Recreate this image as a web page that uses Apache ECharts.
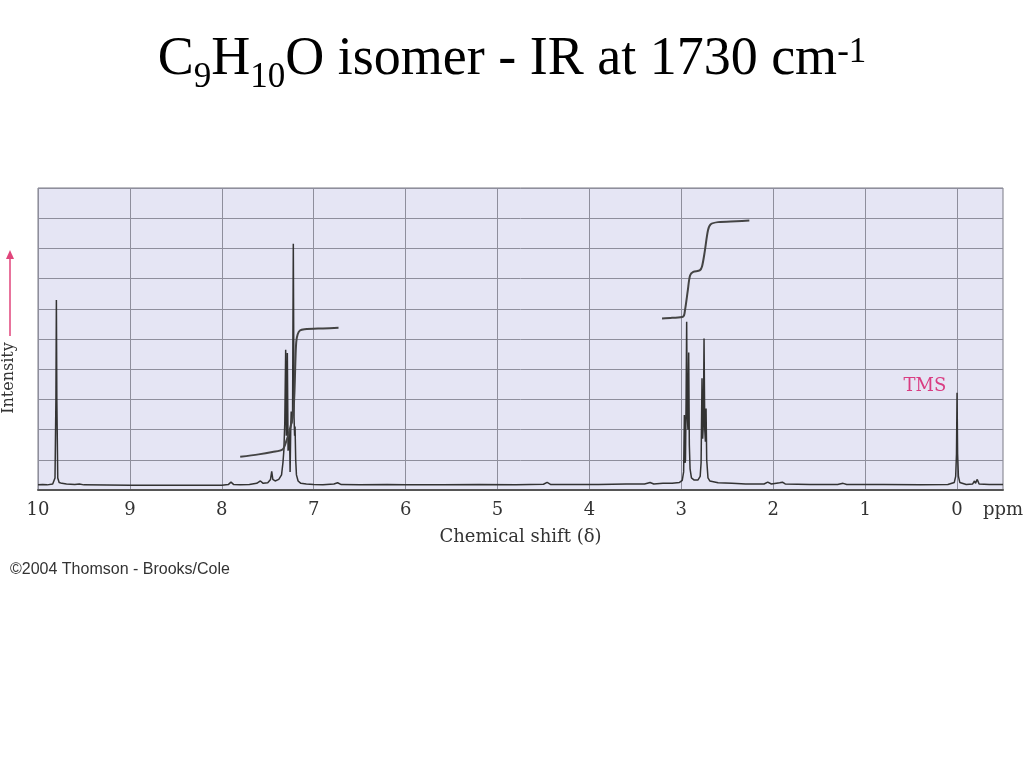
<!DOCTYPE html>
<html>
<head>
<meta charset="utf-8">
<script src="https://cdn.jsdelivr.net/npm/echarts@6/dist/echarts.min.js"></script>
<style>
  html, body { margin: 0; padding: 0; background: #ffffff; }
  #chart { width: 1024px; height: 768px; }
</style>
</head>
<body>
<div id="chart"></div>
<script>
// ---- data ----
const xTickValues = [10, 9, 8, 7, 6, 5, 4, 3, 2, 1, 0];

// NMR trace: [chemical shift ppm, intensity (grid units)]
const spectrum = [
  [10.0,0.17],[9.95,0.18],[9.9,0.17],[9.84,0.2],[9.815,0.4],[9.805,3.0],[9.80,6.29],[9.795,3.0],[9.785,0.4],
  [9.77,0.25],[9.74,0.22],[9.72,0.26],[9.69,0.2],[9.6,0.18],[9.55,0.2],[9.5,0.17],
  [9.0,0.16],[8.5,0.16],[8.0,0.16],[7.93,0.18],[7.9,0.26],[7.87,0.18],[7.8,0.17],[7.7,0.18],
  [7.62,0.22],[7.58,0.3],[7.55,0.22],[7.5,0.24],[7.47,0.35],[7.457,0.62],[7.445,0.35],[7.42,0.3],
  [7.38,0.35],[7.35,0.5],[7.335,0.9],[7.325,1.3],[7.315,2.2],[7.305,4.64],[7.298,1.8],[7.292,2.0],
  [7.287,4.54],[7.279,1.3],[7.27,1.5],[7.263,1.9],[7.257,0.6],[7.25,2.0],[7.245,2.6],[7.238,2.2],
  [7.23,2.6],[7.222,8.15],[7.214,2.4],[7.208,1.8],[7.203,2.1],[7.196,1.0],[7.188,0.5],[7.17,0.3],
  [7.14,0.22],[7.08,0.2],[7.0,0.18],
  [6.9,0.17],[6.78,0.2],[6.74,0.24],[6.7,0.18],[6.5,0.17],[6.2,0.18],[6.0,0.17],[5.6,0.17],
  [5.2,0.18],[4.8,0.17],[4.5,0.19],[4.46,0.25],[4.42,0.18],[4.2,0.18],[3.9,0.18],[3.6,0.2],
  [3.4,0.2],[3.34,0.25],[3.3,0.2],[3.2,0.22],[3.1,0.22],[3.02,0.25],[2.99,0.32],[2.975,0.6],
  [2.967,2.48],[2.96,0.9],[2.955,1.0],[2.948,3.0],[2.942,5.57],[2.936,2.5],[2.928,2.0],[2.920,4.55],
  [2.913,1.5],[2.905,0.7],[2.89,0.4],[2.86,0.33],[2.82,0.33],[2.795,0.45],[2.785,0.9],[2.775,3.7],
  [2.768,1.7],[2.76,2.2],[2.753,5.02],[2.745,2.0],[2.738,1.6],[2.731,2.7],[2.724,1.0],[2.71,0.4],
  [2.69,0.3],[2.6,0.24],[2.45,0.22],[2.3,0.2],[2.1,0.2],[2.06,0.26],[2.02,0.2],[1.93,0.24],
  [1.9,0.26],[1.87,0.2],[1.6,0.18],[1.3,0.18],[1.24,0.22],[1.2,0.18],[0.8,0.18],[0.4,0.17],
  [0.1,0.18],[0.03,0.25],[0.015,0.45],[0.006,1.2],[0.0,3.22],[-0.006,1.2],[-0.015,0.45],[-0.03,0.25],
  [-0.1,0.18],[-0.17,0.2],[-0.19,0.3],[-0.2,0.22],[-0.22,0.35],[-0.24,0.2],[-0.35,0.18],[-0.5,0.18]
];

// integral curves
const aromaticIntegral = [
  [7.8,1.1],[7.6,1.18],[7.45,1.26],[7.34,1.34],[7.3,1.6],[7.26,2.0],[7.225,2.5],[7.21,3.2],
  [7.2,4.2],[7.19,4.9],[7.175,5.15],[7.15,5.28],[7.1,5.32],[6.9,5.35],[6.73,5.37]
];
const aliphaticIntegral = [
  [3.21,5.68],[3.1,5.7],[2.98,5.74],[2.96,5.96],[2.93,6.6],[2.905,7.1],[2.87,7.22],[2.8,7.27],
  [2.775,7.4],[2.745,7.9],[2.71,8.6],[2.68,8.8],[2.6,8.87],[2.4,8.9],[2.26,8.92]
];

const titleParts = ['C', '9', 'H', '10', 'O isomer - IR at 1730 cm', '-1'];

// ---- chart ----
const chart = echarts.init(document.getElementById('chart'), null, { renderer: 'canvas' });
const serif = 'DejaVu Serif';
const option = {
  animation: false,
  backgroundColor: '#ffffff',
  title: {
    left: 'center',
    top: 20,
    text: '{a|' + titleParts[0] + '}{s|' + titleParts[1] + '}{a|' + titleParts[2] + '}{s|' + titleParts[3] +
          '}{a|' + titleParts[4] + '}{p|' + titleParts[5] + '}',
    textStyle: {
      fontWeight: 'normal',
      rich: {
        a: { fontFamily: 'Liberation Serif', fontSize: 54, fontWeight: 'normal', lineHeight: 70, color: '#000' },
        s: { fontFamily: 'Liberation Serif', fontSize: 35, fontWeight: 'normal', lineHeight: 34, height: 34, verticalAlign: 'bottom', color: '#000' },
        p: { fontFamily: 'Liberation Serif', fontSize: 35, fontWeight: 'normal', lineHeight: 56, height: 56, verticalAlign: 'top', color: '#000' }
      }
    }
  },
  grid: {
    left: 38, right: 21, top: 188, bottom: 278,
    show: true, backgroundColor: '#e5e5f4', borderColor: '#7a7a86', borderWidth: 1
  },
  xAxis: {
    type: 'value', inverse: true, min: -0.5, max: 10,
    axisLine: { show: true, onZero: false, lineStyle: { color: '#555', width: 2 } },
    axisTick: { show: false, customValues: xTickValues },
    axisLabel: { customValues: xTickValues, fontFamily: serif, fontSize: 18, color: '#333', margin: 11 },
    splitLine: { show: true, lineStyle: { color: '#8e8e9c', width: 1 } },
    name: 'Chemical shift (δ)', nameLocation: 'middle', nameGap: 38,
    nameTextStyle: { fontFamily: serif, fontSize: 18, color: '#333' }
  },
  yAxis: {
    type: 'value', min: 0, max: 10, interval: 1,
    axisLine: { show: false }, axisTick: { show: false }, axisLabel: { show: false },
    splitLine: { show: true, lineStyle: { color: '#8e8e9c', width: 1 } }
  },
  series: [
    { type: 'line', data: spectrum, showSymbol: false, symbol: 'none',
      lineStyle: { color: '#333333', width: 1.5 }, z: 3 },
    { type: 'line', data: aromaticIntegral, showSymbol: false, symbol: 'none', smooth: 0.3,
      lineStyle: { color: '#444444', width: 2 }, z: 4 },
    { type: 'line', data: aliphaticIntegral, showSymbol: false, symbol: 'none', smooth: 0.3,
      lineStyle: { color: '#444444', width: 2 }, z: 4 }
  ],
  graphic: [
    { type: 'text', x: 925, y: 386, style: { text: 'TMS', fontFamily: serif, fontSize: 18, fill: '#d93c82',
      align: 'center', verticalAlign: 'middle' } },
    { type: 'text', x: 1003, y: 510, style: { text: 'ppm', fontFamily: serif, fontSize: 18, fill: '#333',
      align: 'center', verticalAlign: 'middle' } },
    { type: 'text', x: 9, y: 378, rotation: Math.PI / 2, style: { text: 'Intensity', fontFamily: serif, fontSize: 16,
      fill: '#333', align: 'center', verticalAlign: 'middle' } },
    { type: 'line', shape: { x1: 10, y1: 336, x2: 10, y2: 256 }, style: { stroke: '#e0457b', lineWidth: 1.5 } },
    { type: 'polygon', shape: { points: [[10, 250], [6, 259], [14, 259]] }, style: { fill: '#e0457b' } },
    { type: 'text', x: 10, y: 570, style: { text: '©2004 Thomson - Brooks/Cole', fontFamily: 'Liberation Sans',
      fontSize: 16, fill: '#333', align: 'left', verticalAlign: 'middle' } }
  ]
};
chart.setOption(option);
</script>
</body>
</html>
